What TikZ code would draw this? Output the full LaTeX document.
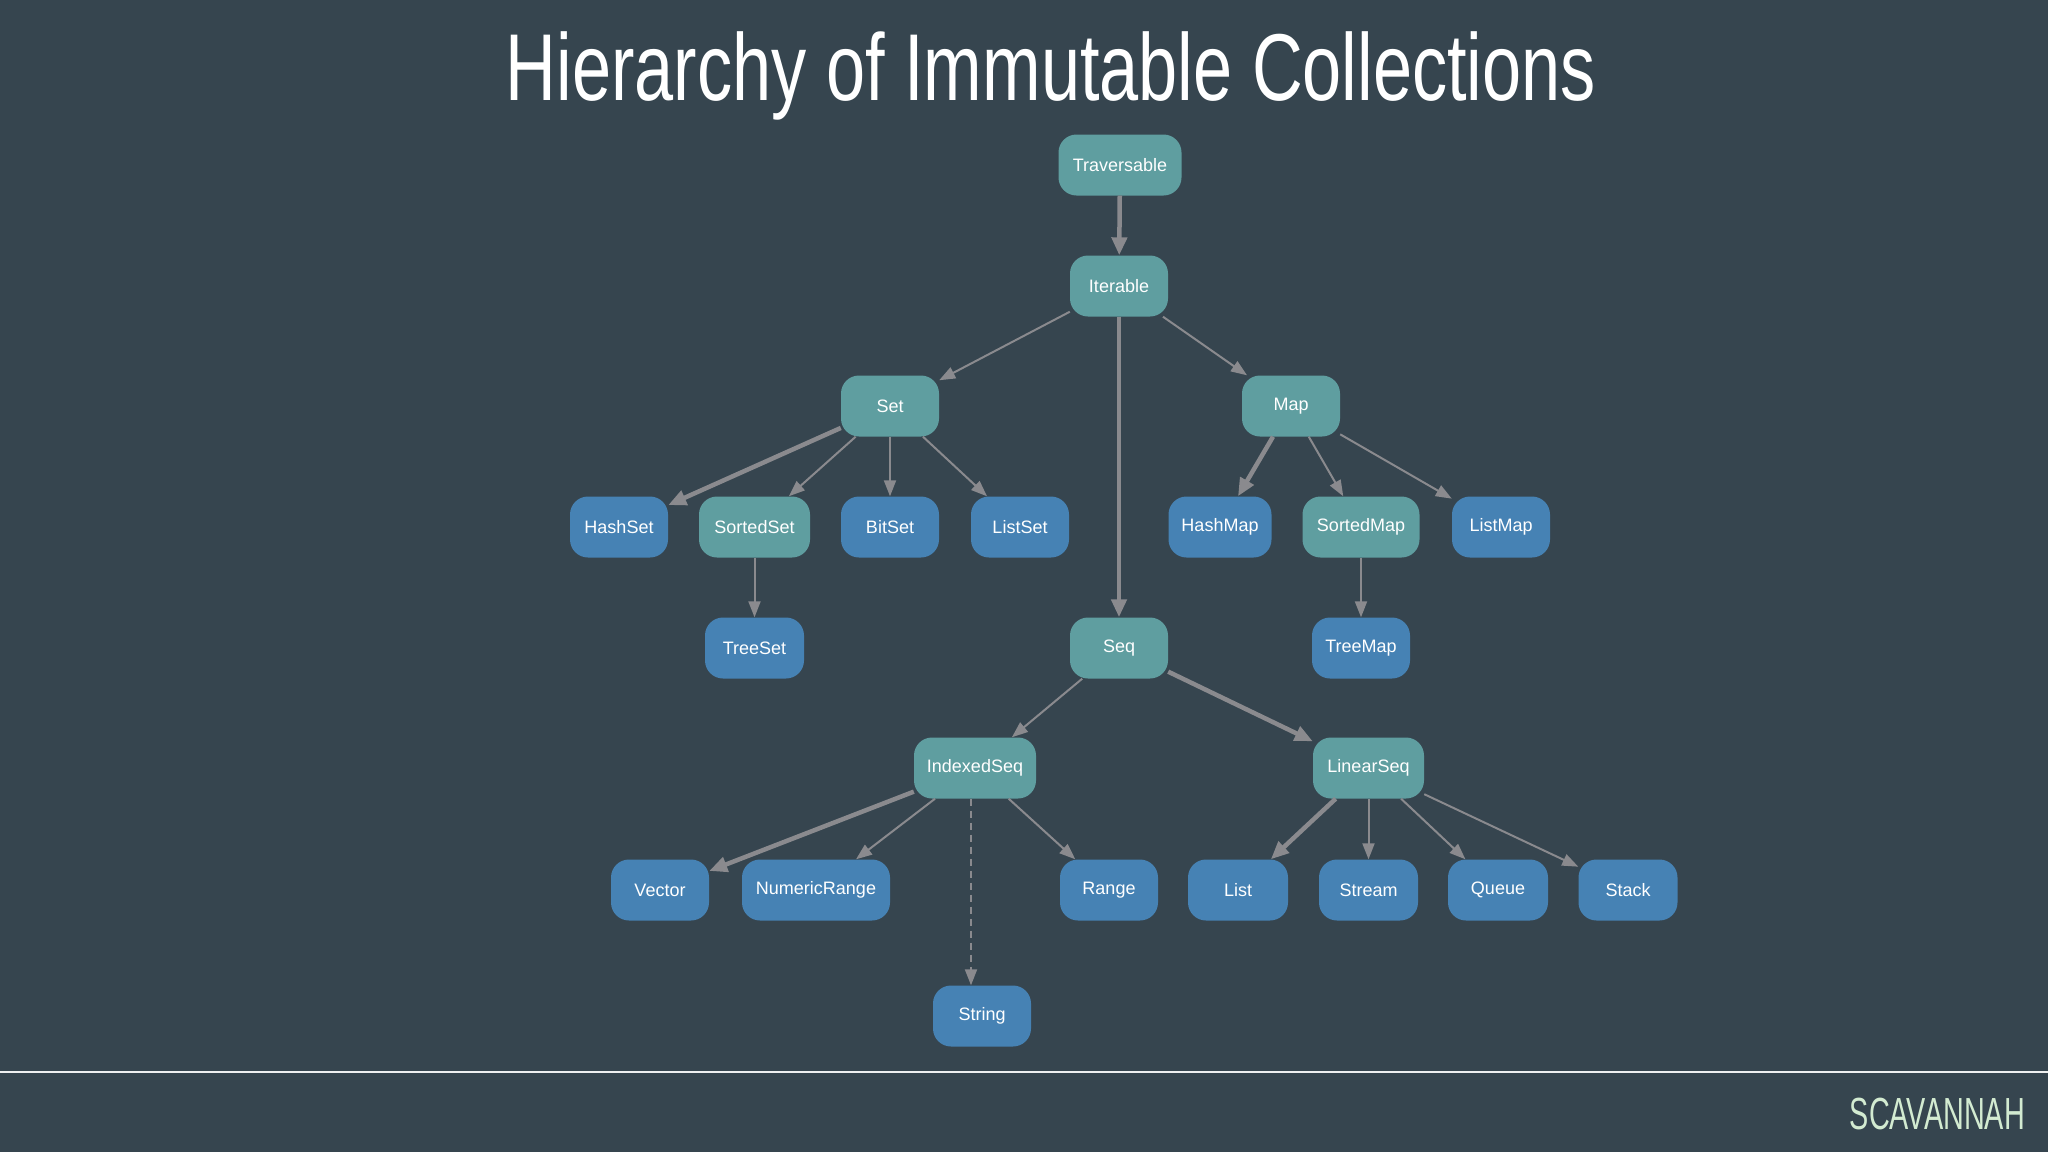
\documentclass[tikz,border=0pt]{standalone}
\usepackage{fontspec}
\usetikzlibrary{arrows.meta,calc}
\setmainfont{Liberation Sans}
\newfontfamily\titlefont[FakeStretch=0.74]{Liberation Sans}
\newfontfamily\brandfont[FakeStretch=0.64]{Liberation Sans}
\definecolor{bgc}{HTML}{36454F}
\definecolor{tealc}{HTML}{5F9EA0}
\definecolor{bluec}{HTML}{4682B4}
\definecolor{edgec}{HTML}{8A8A8E}
\definecolor{brandc}{HTML}{D3EBD1}
\begin{document}
\begin{tikzpicture}[x=1pt,y=-1pt,
  nodebase/.style={rectangle, rounded corners=18pt, minimum height=61pt, inner sep=0pt,
    text=white, font=\fontsize{18}{20}\selectfont},
  tealnode/.style={nodebase, fill=tealc},
  bluenode/.style={nodebase, fill=bluec},
  thinedge/.style={draw=edgec, line width=2pt, -{Triangle[length=16pt,width=12pt]}},
  thickedge/.style={draw=edgec, line width=4.5pt, -{Triangle[length=18pt,width=15pt]}},
  dashedge/.style={thinedge, dash pattern=on 7pt off 5pt}]
\fill[bgc] (0,0) rectangle (2048,1152);
\useasboundingbox (0,0) rectangle (2048,1152);

\node[anchor=base, text=white, font=\titlefont\fontsize{95}{100}\selectfont] (title) at (1051,100) {Hierarchy of Immutable Collections};
\draw[white!92!bgc, line width=2pt] (0,1072) coordinate (lineL) -- (2048,1072) coordinate (lineR);
\node[anchor=base east, text=brandc, font=\brandfont\fontsize{45}{48}\selectfont, inner sep=0pt] (brand) at (2025,1129) {SCAVANNAH};

\node[tealnode, minimum width=123pt] (trav) at (1120,165) {Traversable};
\node[tealnode, minimum width=98pt] (iter) at (1119,286) {Iterable};
\node[tealnode, minimum width=98pt] (set) at (890,406) {Set};
\node[tealnode, minimum width=98pt] (map) at (1291,406) {Map};
\node[bluenode, minimum width=98pt] (hashset) at (619,527) {HashSet};
\node[tealnode, minimum width=111pt] (sortedset) at (754.5,527) {SortedSet};
\node[bluenode, minimum width=98pt] (bitset) at (890,527) {BitSet};
\node[bluenode, minimum width=98pt] (listset) at (1020,527) {ListSet};
\node[bluenode, minimum width=103pt] (hashmap) at (1220,527) {HashMap};
\node[tealnode, minimum width=117pt] (sortedmap) at (1361,527) {SortedMap};
\node[bluenode, minimum width=98pt] (listmap) at (1501,527) {ListMap};
\node[bluenode, minimum width=99pt] (treeset) at (754.5,648) {TreeSet};
\node[tealnode, minimum width=98pt] (seq) at (1119,648) {Seq};
\node[bluenode, minimum width=98pt] (treemap) at (1361,648) {TreeMap};
\node[tealnode, minimum width=122pt] (indexedseq) at (975,768) {IndexedSeq};
\node[tealnode, minimum width=111pt] (linearseq) at (1368.5,768) {LinearSeq};
\node[bluenode, minimum width=98pt] (vector) at (660,890) {Vector};
\node[bluenode, minimum width=148pt] (numericrange) at (816,890) {NumericRange};
\node[bluenode, minimum width=98pt] (range) at (1109,890) {Range};
\node[bluenode, minimum width=100pt] (list) at (1238,890) {List};
\node[bluenode, minimum width=99pt] (stream) at (1368.5,890) {Stream};
\node[bluenode, minimum width=100pt] (queue) at (1498,890) {Queue};
\node[bluenode, minimum width=99pt] (stack) at (1628,890) {Stack};
\node[bluenode, minimum width=98pt] (string) at (982,1016) {String};

\draw[thickedge] (trav) -- (iter);
\draw[thinedge] (iter) -- (set);
\draw[thinedge] (iter) -- (map);
\draw[thickedge] (iter) -- (seq);
\draw[thickedge] (set) -- (hashset);
\draw[thinedge] (set) -- (sortedset);
\draw[thinedge] (set) -- (bitset);
\draw[thinedge] (set) -- (listset);
\draw[thinedge] (sortedset) -- (treeset);
\draw[thickedge] (map) -- (hashmap);
\draw[thinedge] (map) -- (sortedmap);
\draw[thinedge] (map) -- (listmap);
\draw[thinedge] (sortedmap) -- (treemap);
\draw[thinedge] (seq) -- (indexedseq);
\draw[thickedge] (seq) -- (linearseq);
\draw[thickedge] (indexedseq) -- (vector);
\draw[thinedge] (indexedseq) -- (numericrange);
\draw[dashedge] ($(indexedseq.south)+(-4,0)$) -- ($(indexedseq.south |- string.north)+(-4,0)$);
\draw[thinedge] (indexedseq) -- (range);
\draw[thickedge] (linearseq) -- (list);
\draw[thinedge] (linearseq) -- (stream);
\draw[thinedge] (linearseq) -- (queue);
\draw[thinedge] (linearseq) -- (stack);
\end{tikzpicture}
\end{document}
